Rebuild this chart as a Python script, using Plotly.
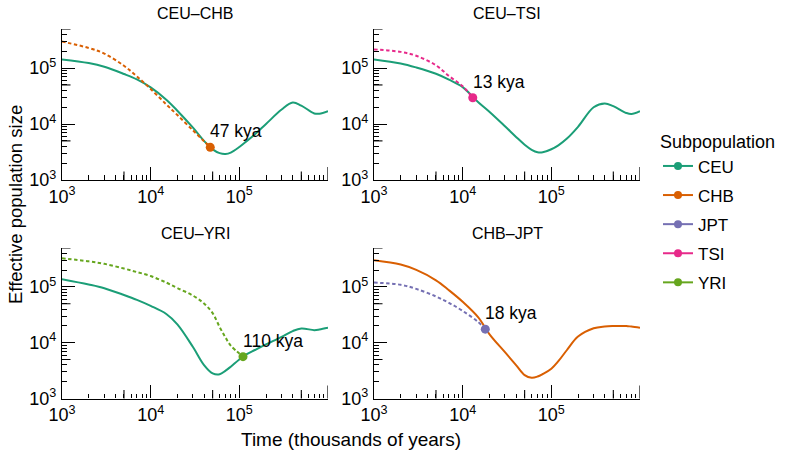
import math
import plotly.graph_objects as go

# ---------------- data ----------------
populations = ["CEU", "CHB", "JPT", "TSI", "YRI"]
colors = {"CEU": "#1B9E77", "CHB": "#D95F02", "JPT": "#7570B3",
          "TSI": "#E7298A", "YRI": "#66A61E"}

time_grid = [1000, 2000, 3000, 5000, 7000, 10000, 15000, 20000, 30000, 40000,
             50000, 60000, 70000, 80000, 100000, 120000, 150000, 200000, 300000,
             400000, 500000, 700000, 800000, 1000000]

# Panel CEU-CHB
ceu_chb_ceu = [142900, 123000, 105900, 78500, 62700, 45200, 27200, 17300, 8610,
               5010, 3520, 3020, 2920, 3090, 3890, 4900, 6590, 10050, 18150, 24270,
               21380, 15490, 15310, 17060]
ceu_chb_chb_time = [1000, 2000, 3000, 5000, 7000, 10000, 15000, 20000, 30000, 40000, 47000]
ceu_chb_chb = [298000, 229000, 182000, 110000, 71000, 42300, 22500, 14500, 7700, 4930, 3840]

# Panel CEU-TSI
ceu_tsi_ceu = [142900, 121100, 102600, 79100, 62200, 45700, 24500, 16600, 9120,
               5890, 4270, 3470, 3130, 3130, 3550, 4170, 5500, 8910, 19950, 23400,
               20900, 15800, 15100, 17000]
ceu_tsi_tsi_time = [1000, 2000, 3000, 5000, 7000, 10000, 13000]
ceu_tsi_tsi = [216000, 195000, 166000, 112000, 72400, 47300, 29500]

# Panel CEU-YRI
ceu_yri_ceu = [138000, 110900, 95100, 71800, 58700, 45800, 32800, 21400, 8380,
               3980, 2820, 2720, 3160, 3720, 5010, 6170, 7410, 9330, 12700, 16200,
               18000, 16800, 17200, 18500]
ceu_yri_yri_time = [1000, 2000, 3000, 5000, 7000, 10000, 15000, 20000, 30000,
                    40000, 50000, 60000, 70000, 80000, 110000]
ceu_yri_yri = [327000, 288000, 260000, 214000, 185000, 157000, 120000, 95900,
               70000, 50500, 33900, 19100, 12300, 8910, 5620]

# Panel CHB-JPT
chb_jpt_chb = [300600, 252000, 202000, 131800, 87500, 54300, 28500, 14300, 6760,
               3980, 2630, 2360, 2480, 2750, 3430, 4680, 7410, 12900, 18200, 19600,
               19950, 19950, 19500, 18600]
chb_jpt_jpt_time = [1000, 2000, 3000, 5000, 7000, 10000, 15000, 18000]
chb_jpt_jpt = [119700, 109600, 92300, 67600, 51900, 37200, 23400, 17500]

split_labels = ["47 kya", "13 kya", "110 kya", "18 kya"]

x_major_ticks = [1000, 10000, 100000]
x_tick_text = ["10<sup>3</sup>", "10<sup>4</sup>", "10<sup>5</sup>"]
x_end_tick = 1000000
y_major_ticks = [1000, 10000, 100000]
y_tick_text = ["10<sup>3</sup>", "10<sup>4</sup>", "10<sup>5</sup>"]
minor_mult = [2, 3, 4, 5, 6, 7, 8, 9]
mid_ticks = [5000, 50000, 500000]

panels = [
    dict(title="CEU–CHB", solid=("CEU", time_grid, ceu_chb_ceu),
         dashed=("CHB", ceu_chb_chb_time, ceu_chb_chb), label=split_labels[0]),
    dict(title="CEU–TSI", solid=("CEU", time_grid, ceu_tsi_ceu),
         dashed=("TSI", ceu_tsi_tsi_time, ceu_tsi_tsi), label=split_labels[1]),
    dict(title="CEU–YRI", solid=("CEU", time_grid, ceu_yri_ceu),
         dashed=("YRI", ceu_yri_yri_time, ceu_yri_yri), label=split_labels[2]),
    dict(title="CHB–JPT", solid=("CHB", time_grid, chb_jpt_chb),
         dashed=("JPT", chb_jpt_jpt_time, chb_jpt_jpt), label=split_labels[3]),
]

# ---------------- layout geometry (pixels) ----------------
W, H = 795, 458
FONT = "Liberation Sans, Arial, Helvetica, sans-serif"
x_px = [(62, 328), (374, 640), (62, 328), (374, 640)]
y_px = [(29, 180), (29, 180), (248, 398.5), (248, 398.5)]
XR = [3, 6]
YR = [3, math.log10(500000)]

fig = go.Figure()
layout = dict(template="none", width=W, height=H, margin=dict(l=0, r=0, t=0, b=0),
              plot_bgcolor="white", paper_bgcolor="white",
              font=dict(family=FONT, color="black"), showlegend=True)
annotations = []
shapes = []

minor_vals = [m * d for d in [1000, 10000, 100000] for m in minor_mult]
y_minor_vals = [v for v in minor_vals if v <= 500000]
tick_line = dict(color="black", width=1.1)

for i, p in enumerate(panels):
    n = "" if i == 0 else str(i + 1)
    xa, ya = "x" + n, "y" + n
    (x0, x1), (y0, y1) = x_px[i], y_px[i]
    common = dict(showline=True, linecolor="black", linewidth=1.4,
                  ticks="inside", ticklen=13, tickwidth=1.2, tickcolor="black",
                  showgrid=False, zeroline=False, type="log", automargin=False,
                  tickfont=dict(size=18, family=FONT, color="black"))
    layout["xaxis" + n] = dict(common, domain=[x0 / W, x1 / W], range=XR,
                               anchor=ya, tickmode="array", tickvals=x_major_ticks,
                               ticktext=x_tick_text,
                               minor=dict(ticks="inside", ticklen=4.5, tickwidth=1.1,
                                          tickcolor="black", tickmode="array",
                                          tickvals=minor_vals, showgrid=False))
    layout["yaxis" + n] = dict(common, domain=[1 - y1 / H, 1 - y0 / H], range=YR,
                               anchor=xa, tickmode="array", tickvals=y_major_ticks,
                               ticktext=y_tick_text, ticklabelstandoff=1,
                               minor=dict(ticks="inside", ticklen=4.5, tickwidth=1.1,
                                          tickcolor="black", tickmode="array",
                                          tickvals=y_minor_vals, showgrid=False))
    # mid-length log ticks at 5x
    for v in mid_ticks:
        shapes.append(dict(type="line", xref=xa, yref=ya + " domain", x0=v, x1=v,
                           y0=0, y1=8.5 / (y1 - y0), line=tick_line))
        shapes.append(dict(type="line", xref=xa + " domain", yref=ya, y0=v, y1=v,
                           x0=0, x1=8.5 / (x1 - x0), line=tick_line))
    # long tick at the right end of the time axis (unlabelled)
    shapes.append(dict(type="line", xref=xa, yref=ya + " domain", x0=x_end_tick,
                       x1=x_end_tick, y0=0, y1=13 / (y1 - y0),
                       line=dict(color="black", width=1.2)))

    spop, sx, sy = p["solid"]
    dpop, dx, dy = p["dashed"]
    fig.add_trace(go.Scatter(x=sx, y=sy, mode="lines", xaxis=xa, yaxis=ya,
                             line=dict(color=colors[spop], width=2, shape="spline",
                                       smoothing=1.0),
                             showlegend=False, hoverinfo="skip"))
    fig.add_trace(go.Scatter(x=dx, y=dy, mode="lines", xaxis=xa, yaxis=ya,
                             line=dict(color=colors[dpop], width=2, dash="3.5px,2.5px",
                                       shape="spline", smoothing=1.0),
                             showlegend=False, hoverinfo="skip"))
    fig.add_trace(go.Scatter(x=[dx[-1]], y=[dy[-1]], mode="markers", xaxis=xa, yaxis=ya,
                             marker=dict(color=colors[dpop], size=9),
                             showlegend=False, hoverinfo="skip"))
    annotations.append(dict(xref=xa, yref=ya, x=math.log10(dx[-1]),
                            y=math.log10(dy[-1]), text=p["label"], showarrow=False,
                            xanchor="left", yanchor="bottom", xshift=-2, yshift=4,
                            font=dict(size=17.5, family=FONT, color="black")))
    # panel title
    annotations.append(dict(xref="paper", yref="paper", x=(x0 + x1) / 2 / W,
                            y=1 - (y0 - 15) / H, text=p["title"], showarrow=False,
                            xanchor="center", yanchor="middle",
                            font=dict(size=16, family=FONT, color="black")))

# legend entries
for pop in populations:
    fig.add_trace(go.Scatter(x=[None], y=[None], mode="lines+markers", name=pop,
                             legendgroup=pop, line=dict(color=colors[pop], width=2),
                             marker=dict(color=colors[pop], size=8),
                             xaxis="x", yaxis="y", showlegend=True))

annotations.append(dict(xref="paper", yref="paper", x=15 / W, y=1 - 205 / H,
                        text="Effective population size", textangle=-90,
                        showarrow=False, xanchor="center", yanchor="middle",
                        font=dict(size=18.5, family=FONT, color="black")))
annotations.append(dict(xref="paper", yref="paper", x=351 / W, y=1 - 439 / H,
                        text="Time (thousands of years)", showarrow=False,
                        xanchor="center", yanchor="middle",
                        font=dict(size=19, family=FONT, color="black")))

layout["annotations"] = annotations
layout["shapes"] = shapes
layout["legend"] = dict(x=658 / W, y=1 - 125 / H, xanchor="left", yanchor="top",
                        title=dict(text="Subpopulation", font=dict(size=18, family=FONT)),
                        font=dict(size=17, family=FONT, color="black"),
                        traceorder="grouped", tracegroupgap=4, itemwidth=30,
                        bgcolor="rgba(0,0,0,0)", borderwidth=0)
fig.update_layout(**layout)
fig.write_html("out.html", config={"displayModeBar": False},
               post_script="document.body.style.margin='0';document.body.style.overflow='hidden';")
